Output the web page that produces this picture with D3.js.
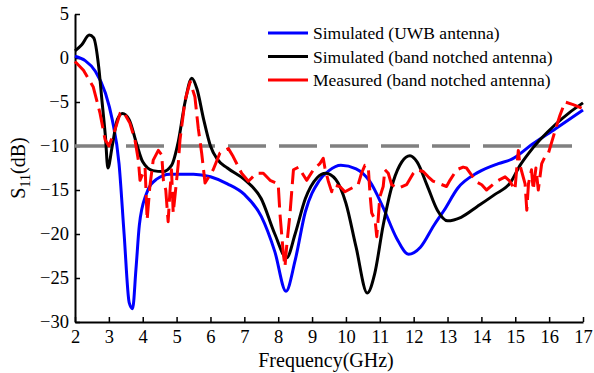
<!DOCTYPE html>
<html>
<head>
<meta charset="utf-8">
<script src="https://cdn.jsdelivr.net/npm/d3@7"></script>
<style>
  body { margin: 0; background: #fff; }
  text { font-family: "Liberation Serif", "Times New Roman", serif; }
</style>
</head>
<body>
<div id="chart"></div>
<script>
// frequency (GHz) / S11 (dB) pairs
var uwbF = [2.0, 2.3, 2.6, 2.9, 3.1, 3.3, 3.45, 3.6, 3.7, 3.8, 3.9, 4.1, 4.4, 4.8, 5.5, 6.0, 6.5, 7.0, 7.5, 7.9, 8.23, 8.5, 8.8, 9.2, 9.5, 9.85, 10.3, 10.7, 11.1, 11.5, 11.85, 12.2, 12.6, 12.9, 13.3, 13.9, 14.5, 14.9, 15.5, 16.2, 17.0];
var uwbS = [0.2, -0.3, -1.5, -4, -7, -12, -20, -27.8, -28.5, -24, -19, -15.5, -13.8, -13.2, -13.2, -13.5, -14.3, -15.5, -18, -22, -26.5, -23, -17.5, -14, -12.8, -12.2, -12.6, -14, -17, -20.5, -22.3, -21.5, -19, -17.3, -14.8, -13, -12, -11.5, -9.8, -8, -5.9];

var notchF = [2.0, 2.2, 2.42, 2.55, 2.7, 2.8, 2.9, 2.97, 3.1, 3.25, 3.4, 3.6, 3.8, 4.0, 4.3, 4.6, 4.85, 5.05, 5.25, 5.45, 5.6, 5.8, 6.0, 6.2, 6.5, 7.0, 7.5, 7.9, 8.25, 8.5, 8.8, 9.15, 9.4, 9.7, 10.0, 10.3, 10.63, 10.85, 11.1, 11.4, 11.65, 11.89, 12.1, 12.4, 12.7, 13.0, 13.4, 13.87, 14.4, 14.85, 15.14, 15.4, 15.73, 16.2, 16.6, 17.0];
var notchS = [0.8, 1.5, 2.6, 2.3, -1, -5, -9, -12.5, -10, -7, -6.3, -7, -9.5, -11.8, -12.8, -12.9, -12.2, -9.5, -5, -2.3, -3.5, -7, -10, -11.5, -12.5, -13.8, -16, -20, -22.7, -20, -16, -13.6, -13.1, -13.8, -16.5, -21.5, -26.7, -24.5, -19, -14, -11.8, -11.1, -11.8, -14.5, -17.3, -18.5, -18.1, -16.9, -15.5, -14.2, -12.2, -10.8, -9.3, -7.5, -6.2, -5.1];

var measF = [2.0, 2.25, 2.54, 2.74, 2.89, 3.0, 3.15, 3.33, 3.43, 3.62, 3.77, 3.87, 3.92, 4.07, 4.13, 4.21, 4.31, 4.46, 4.56, 4.61, 4.68, 4.75, 4.8, 4.85, 4.9, 5.0, 5.05, 5.1, 5.25, 5.4, 5.54, 5.64, 5.74, 5.84, 6.08, 6.28, 6.53, 6.67, 6.92, 7.12, 7.36, 7.56, 7.76, 8.0, 8.05, 8.15, 8.2, 8.25, 8.35, 8.45, 8.6, 8.84, 9.04, 9.23, 9.33, 9.38, 9.48, 9.58, 9.62, 9.82, 9.97, 10.36, 10.46, 10.56, 10.66, 10.71, 10.76, 10.86, 10.91, 10.95, 11.0, 11.1, 11.15, 11.25, 11.35, 11.55, 11.79, 11.99, 12.09, 12.28, 12.43, 12.57, 12.97, 13.07, 13.27, 13.46, 13.56, 13.71, 13.86, 14.01, 14.15, 14.45, 14.7, 14.84, 14.99, 15.04, 15.09, 15.14, 15.29, 15.34, 15.39, 15.48, 15.53, 15.61, 15.68, 15.78, 15.88, 15.98, 16.08, 16.18, 16.32, 16.47, 16.71, 16.96];
var measS = [-0.4, -1.4, -3.3, -6.3, -9.3, -10, -8.5, -6.3, -6.1, -7.4, -9.3, -11.6, -13.9, -12.5, -18.4, -14.6, -11.6, -10.5, -11, -13.9, -15, -18.6, -15.4, -12.7, -17.6, -13.9, -12, -9.3, -4.8, -2.7, -4.4, -8, -10.8, -14.2, -12.7, -10.8, -10.3, -11.2, -13.1, -14, -13.1, -13.1, -13.9, -14.3, -17.6, -22.2, -23.7, -21.4, -17.6, -12.7, -12.4, -13.9, -12.7, -12, -11.4, -12.5, -14, -15.2, -14.4, -14.6, -15.2, -14.4, -13.1, -12.2, -12.4, -15.4, -17.6, -18.4, -20.3, -18.4, -15.8, -14.6, -12.7, -13.1, -14.4, -14.8, -14.4, -13.1, -12.7, -12.9, -13.5, -14, -14.6, -13.9, -12.7, -12.4, -12.5, -13.3, -14.1, -14.4, -15, -14, -13.5, -14, -15, -12.7, -10.5, -12.2, -14.3, -17.3, -14.3, -12.7, -15, -12.5, -15, -12, -11.2, -10.8, -9.5, -8.2, -6.5, -5.0, -5.3, -5.7];

var xTicks = [2, 3, 4, 5, 6, 7, 8, 9, 10, 11, 12, 13, 14, 15, 16, 17];
var yTicks = [5, 0, -5, -10, -15, -20, -25, -30];
var limitLine = -10;

var seriesNames = ["Simulated (UWB antenna)", "Simulated (band notched antenna)", "Measured (band notched antenna)"];

var W = 594, H = 373;
var m = { top: 14, left: 75, right: 11, bottom: 51 };
var serif = '"Liberation Serif", "Times New Roman", serif';

var svg = d3.select('#chart').append('svg')
  .attr('width', W)
  .attr('height', H);

var x = d3.scaleLinear().domain([2, 17]).range([m.left, W - m.right]);
var y = d3.scaleLinear().domain([-30, 5]).range([H - m.bottom, m.top]);

// axes, MATLAB style: ticks point inward
var xAxis = d3.axisBottom(x).tickValues(xTicks).tickSizeInner(-5).tickSizeOuter(0).tickPadding(8);
var yAxis = d3.axisLeft(y).tickValues(yTicks).tickSizeInner(-5).tickSizeOuter(0).tickPadding(6);

var gx = svg.append('g')
  .attr('transform', 'translate(0,' + (H - m.bottom) + ')')
  .call(xAxis);
var gy = svg.append('g')
  .attr('transform', 'translate(' + m.left + ',0)')
  .call(yAxis);

[gx, gy].forEach(function (g) {
  g.attr('font-family', serif).attr('font-size', 18.5);
  g.select('.domain').attr('stroke', '#000').attr('stroke-width', 2);
  g.selectAll('.tick line').attr('stroke', '#000').attr('stroke-width', 1.5);
  g.selectAll('.tick text').attr('fill', '#000');
});

// -10 dB reference line
svg.append('line')
  .attr('x1', x(2)).attr('x2', x(17))
  .attr('y1', y(limitLine)).attr('y2', y(limitLine))
  .attr('stroke', '#808080')
  .attr('stroke-width', 3.5)
  .attr('stroke-dasharray', '38,13');

var line = d3.line()
  .x(function (d) { return x(d[0]); })
  .y(function (d) { return y(d[1]); })
  .curve(d3.curveMonotoneX);

var jagged = d3.line()
  .x(function (d) { return x(d[0]); })
  .y(function (d) { return y(d[1]); });

svg.append('path')
  .datum(d3.zip(uwbF, uwbS))
  .attr('d', line)
  .attr('fill', 'none')
  .attr('stroke', '#0000ff')
  .attr('stroke-width', 3);

svg.append('path')
  .datum(d3.zip(notchF, notchS))
  .attr('d', line)
  .attr('fill', 'none')
  .attr('stroke', '#000')
  .attr('stroke-width', 3);

svg.append('path')
  .datum(d3.zip(measF, measS))
  .attr('d', jagged)
  .attr('fill', 'none')
  .attr('stroke', '#ff0000')
  .attr('stroke-width', 3)
  .attr('stroke-linejoin', 'round')
  .attr('stroke-dasharray', '20,7');

// legend
var legColors = ['#0000ff', '#000', '#ff0000'];
var leg = svg.append('g').attr('transform', 'translate(268,33)');
seriesNames.forEach(function (name, i) {
  var row = leg.append('g').attr('transform', 'translate(0,' + (i * 23.5) + ')');
  row.append('line')
    .attr('x1', 0).attr('x2', 40)
    .attr('stroke', legColors[i])
    .attr('stroke-width', 3);
  row.append('text')
    .attr('x', 45).attr('y', 6)
    .attr('font-family', serif)
    .attr('font-size', 17.5)
    .attr('fill', '#000')
    .text(name);
});

// axis titles
svg.append('text')
  .attr('x', 326).attr('y', 367)
  .attr('text-anchor', 'middle')
  .attr('font-family', serif)
  .attr('font-size', 20)
  .text('Frequency(GHz)');

var yl = svg.append('text')
  .attr('transform', 'translate(25,' + ((m.top + H - m.bottom) / 2) + ') rotate(-90)')
  .attr('text-anchor', 'middle')
  .attr('font-family', serif)
  .attr('font-size', 20);
yl.append('tspan').text('S');
yl.append('tspan').attr('dy', 5).attr('font-size', 14).text('11');
yl.append('tspan').attr('dy', -5).text('(dB)');
</script>
</body>
</html>
